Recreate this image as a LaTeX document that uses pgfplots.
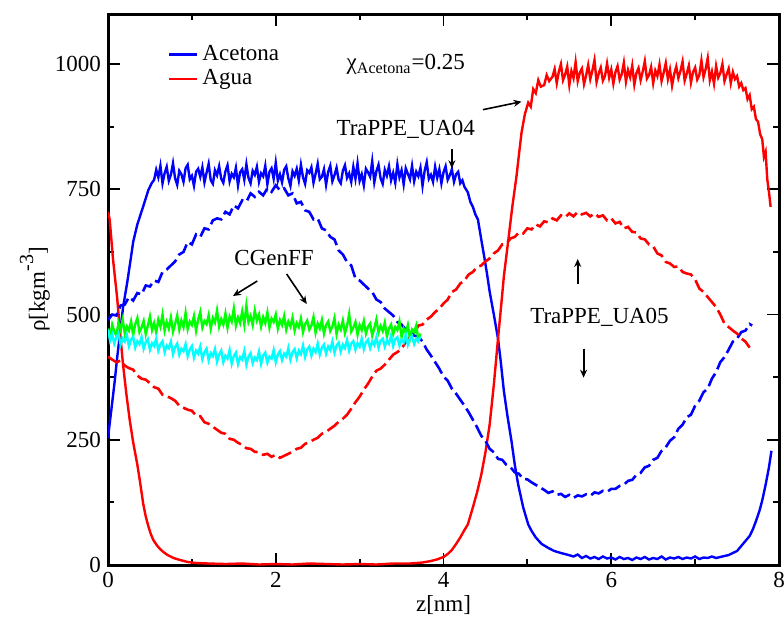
\documentclass[border=0pt]{standalone}
\usepackage{fontspec}
\setmainfont{Liberation Serif}
\usepackage{pgfplots}
\usepackage{pgfplotstable}
\pgfplotsset{compat=1.18}
\usetikzlibrary{arrows.meta}

\definecolor{cblue}{RGB}{0,0,255}
\definecolor{cred}{RGB}{255,0,0}
\definecolor{cgreen}{RGB}{0,255,0}
\definecolor{ccyan}{RGB}{0,255,255}

\pgfplotstableread{
x y
0.00 254
0.04 310
0.08 367
0.11 415
0.14 458
0.18 515
0.23 565
0.27 610
0.30 645
0.35 680
0.42 716
0.48 748
0.52 762
0.550 769
0.575 789
0.600 774
0.625 797
0.650 762
0.675 782
0.700 795
0.725 767
0.750 779
0.775 802
0.800 772
0.825 759
0.850 787
0.875 780
0.900 765
0.925 792
0.950 799
0.975 770
1.000 777
1.025 757
1.050 785
1.075 791
1.100 775
1.125 794
1.150 764
1.175 783
1.200 801
1.225 768
1.250 761
1.275 788
1.300 778
1.325 796
1.350 771
1.375 763
1.400 786
1.425 798
1.450 766
1.475 781
1.500 774
1.525 793
1.550 758
1.575 784
1.600 790
1.625 769
1.650 800
1.675 773
1.700 762
1.725 787
1.750 779
1.775 795
1.800 765
1.825 782
1.850 776
1.875 797
1.900 760
1.925 785
1.950 792
1.975 771
2.000 803
2.025 767
2.050 780
2.075 764
2.100 789
2.125 796
2.150 772
2.175 757
2.200 786
2.225 777
2.250 791
2.275 768
2.300 799
2.325 774
2.350 761
2.375 788
2.400 783
2.425 794
2.450 763
2.475 781
2.500 801
2.525 770
2.550 775
2.575 790
2.600 759
2.625 785
2.650 797
2.675 766
2.700 778
2.725 793
2.750 769
2.775 762
2.800 787
2.825 798
2.850 773
2.875 782
2.900 765
2.925 795
2.950 771
2.975 802
3.000 767
3.025 780
3.050 758
3.075 791
3.100 784
3.125 775
3.150 806
3.175 764
3.200 786
3.225 799
3.250 772
3.275 761
3.300 789
3.325 777
3.350 796
3.375 768
3.400 783
3.425 763
3.450 800
3.475 774
3.500 788
3.525 760
3.550 792
3.575 781
3.600 770
3.625 797
3.650 766
3.675 785
3.700 776
3.725 793
3.750 757
3.775 787
3.800 804
3.825 771
3.850 779
3.875 765
3.900 795
3.925 773
3.950 790
3.975 762
4.000 784
4.025 796
4.050 769
4.075 778
4.100 790
4.125 765
4.150 780
4.175 785
4.200 762
4.225 768
4.250 755
4.29 744
4.32 725
4.35 715
4.38 700
4.41 690
4.45 650
4.49 611
4.52 580
4.55 546
4.60 500
4.65 452
4.68 410
4.72 347
4.76 300
4.81 248
4.85 200
4.89 161
4.95 115
5.01 81
5.05 68
5.10 55
5.17 42
5.25 34
5.32 28
5.40 24
5.49 20
5.55 17
5.60 21
5.65 14
5.70 18
5.75 13
5.80 16
5.85 12
5.90 17
5.95 13
6.00 15
6.05 11
6.10 16
6.15 12
6.20 14
6.25 10
6.30 15
6.35 12
6.40 16
6.45 11
6.50 14
6.55 12
6.60 17
6.65 11
6.70 15
6.75 13
6.80 16
6.85 12
6.90 15
6.95 13
7.00 17
7.05 12
7.10 15
7.15 14
7.20 17
7.25 14
7.30 16
7.35 18
7.40 20
7.45 24
7.50 28
7.53 34
7.58 44
7.62 52
7.65 58
7.69 72
7.73 90
7.77 110
7.80 129
7.84 160
7.88 195
7.91 228
}\bluesolid

\pgfplotstableread{
x y
0.00 705
0.02 690
0.06 610
0.11 532
0.14 470
0.18 399
0.22 340
0.26 288
0.30 245
0.35 200
0.38 168
0.40 145
0.42 122
0.45 97
0.48 78
0.51 62
0.54 50
0.58 40
0.62 32
0.66 26
0.71 20
0.78 14
0.86 10
0.95 6
1.05 4
1.20 3
1.40 2
1.60 3
1.80 1
2.00 2
2.20 1
2.40 3
2.60 2
2.80 1
3.00 2
3.20 1
3.40 3
3.60 3
3.75 5
3.85 8
3.92 11
4.00 16
4.05 22
4.10 30
4.15 42
4.20 55
4.25 70
4.29 81
4.35 115
4.40 145
4.45 180
4.50 225
4.55 280
4.60 360
4.65 452
4.70 540
4.72 577
4.77 645
4.82 715
4.87 776
4.90 820
4.93 863
4.97 900
5.01 923
5.04 915
5.07 950
5.10 942
5.13 968
5.16 955
5.20 958
5.23 978
5.26 966
5.300 975
5.325 990
5.350 962
5.375 985
5.400 1000
5.425 968
5.450 979
5.475 995
5.500 958
5.525 986
5.550 972
5.575 1004
5.600 966
5.625 983
5.650 991
5.675 960
5.700 977
5.725 998
5.750 970
5.775 987
5.800 1008
5.825 964
5.850 981
5.875 993
5.900 967
5.925 976
5.950 1001
5.975 973
6.000 989
6.025 961
6.050 984
6.075 996
6.100 969
6.125 980
6.150 1003
6.175 965
6.200 988
6.225 974
6.250 997
6.275 959
6.300 982
6.325 992
6.350 968
6.375 985
6.400 1006
6.425 971
6.450 978
6.475 994
6.500 962
6.525 987
6.550 976
6.575 999
6.600 966
6.625 983
6.650 1002
6.675 970
6.700 989
6.725 957
6.750 980
6.775 995
6.800 972
6.825 986
6.850 1005
6.875 967
6.900 981
6.925 997
6.950 963
6.975 984
7.000 993
7.025 969
7.050 978
7.075 1007
7.100 974
7.125 990
7.150 1012
7.175 968
7.200 985
7.225 961
7.250 996
7.275 973
7.300 982
7.325 1000
7.350 966
7.375 979
7.400 991
7.425 962
7.450 984
7.475 970
7.500 976
7.525 955
7.550 962
7.575 948
7.600 952
7.625 930
7.650 938
7.675 910
7.700 915
7.725 890
7.750 885
7.775 860
7.800 850
7.820 815
7.840 825
7.860 770
7.880 745
7.900 715
}\redsolid

\pgfplotstableread{
x y
0.00 489
0.05 500
0.10 498
0.15 518
0.20 520
0.25 535
0.30 528
0.35 543
0.40 540
0.45 558
0.50 556
0.55 568
0.60 565
0.65 585
0.70 590
0.75 598
0.80 606
0.85 620
0.90 625
0.95 645
1.00 640
1.05 660
1.10 655
1.15 672
1.20 670
1.25 688
1.30 692
1.35 690
1.40 705
1.45 700
1.50 718
1.55 712
1.60 728
1.65 725
1.70 742
1.75 735
1.80 745
1.85 738
1.90 752
1.95 745
2.00 758
2.05 748
2.10 752
2.15 738
2.20 742
2.25 722
2.30 725
2.35 708
2.40 705
2.45 690
2.50 692
2.55 672
2.60 668
2.65 655
2.70 650
2.75 628
2.80 620
2.85 605
2.90 598
2.95 572
3.00 568
3.05 560
3.10 552
3.15 545
3.20 530
3.25 525
3.30 512
3.35 505
3.40 498
3.45 485
3.50 480
3.55 470
3.60 466
3.65 458
3.70 456
3.75 446
3.80 430
3.85 418
3.90 405
3.95 392
4.00 376
4.05 368
4.10 352
4.15 342
4.20 330
4.25 318
4.30 305
4.35 290
4.40 275
4.45 258
4.50 248
4.55 232
4.60 225
4.65 212
4.70 210
4.75 200
4.80 195
4.85 185
4.90 182
4.95 172
5.00 171
5.05 165
5.10 160
5.15 155
5.20 150
5.25 144
5.30 147
5.35 140
5.40 142
5.45 136
5.50 140
5.55 134
5.60 139
5.65 137
5.70 141
5.75 138
5.80 145
5.85 143
5.90 148
5.95 146
6.00 152
6.05 152
6.10 158
6.15 160
6.20 168
6.25 170
6.30 180
6.35 184
6.40 195
6.45 198
6.50 210
6.55 214
6.60 228
6.65 235
6.70 248
6.75 255
6.80 272
6.85 280
6.90 295
6.95 300
7.00 318
7.05 328
7.10 345
7.15 352
7.20 372
7.25 385
7.30 405
7.35 415
7.40 430
7.45 446
7.50 452
7.55 465
7.60 468
7.65 481
7.68 478
}\bluedash

\pgfplotstableread{
x y
0.00 416
0.05 410
0.10 405
0.15 408
0.20 398
0.25 393
0.30 390
0.35 378
0.40 372
0.45 370
0.50 363
0.55 355
0.60 352
0.65 340
0.70 337
0.75 333
0.80 328
0.85 318
0.90 314
0.95 310
1.00 308
1.05 298
1.10 297
1.15 285
1.20 282
1.25 276
1.30 270
1.35 264
1.40 262
1.45 252
1.50 250
1.55 244
1.60 240
1.65 233
1.70 232
1.75 226
1.80 225
1.85 220
1.90 222
1.95 216
2.00 220
2.05 214
2.10 218
2.15 222
2.20 226
2.25 232
2.30 234
2.35 242
2.40 245
2.45 250
2.50 254
2.55 262
2.60 266
2.65 272
2.70 278
2.75 286
2.80 292
2.85 300
2.90 312
2.95 325
3.00 336
3.05 350
3.10 362
3.15 376
3.20 388
3.25 392
3.30 400
3.35 410
3.40 420
3.45 425
3.50 432
3.55 445
3.60 455
3.65 462
3.70 478
3.75 480
3.80 490
3.85 496
3.90 505
3.95 512
4.00 522
4.05 530
4.10 545
4.15 550
4.20 562
4.25 568
4.30 580
4.35 585
4.40 595
4.45 598
4.50 606
4.55 612
4.60 622
4.65 628
4.70 640
4.75 642
4.80 652
4.85 655
4.90 664
4.95 662
5.00 672
5.05 670
5.10 680
5.15 676
5.20 686
5.25 684
5.30 692
5.35 688
5.40 698
5.45 694
5.50 702
5.55 696
5.60 705
5.65 700
5.70 703
5.75 696
5.80 702
5.85 695
5.90 698
5.95 688
6.00 692
6.05 682
6.10 685
6.15 672
6.20 675
6.25 665
6.30 664
6.35 652
6.40 650
6.45 640
6.50 636
6.55 622
6.60 618
6.65 605
6.70 602
6.75 595
6.80 596
6.85 585
6.90 582
6.95 580
7.00 570
7.05 552
7.10 545
7.15 535
7.20 525
7.25 515
7.30 500
7.35 482
7.40 475
7.45 468
7.50 462
7.55 452
7.60 446
7.65 434
}\reddash

\pgfplotstableread{
x y
0.000 472
0.025 455
0.050 480
0.075 466
0.100 458
0.125 484
0.150 470
0.175 490
0.200 462
0.225 476
0.250 468
0.275 486
0.300 459
0.325 481
0.350 493
0.375 465
0.400 474
0.425 487
0.450 461
0.475 478
0.500 496
0.525 469
0.550 483
0.575 464
0.600 490
0.625 476
0.650 500
0.675 468
0.700 485
0.725 472
0.750 494
0.775 466
0.800 481
0.825 498
0.850 470
0.875 488
0.900 475
0.925 503
0.950 471
0.975 486
1.000 479
1.025 497
1.050 468
1.075 490
1.100 505
1.125 474
1.150 487
1.175 481
1.200 499
1.225 472
1.250 493
1.275 484
1.300 508
1.325 476
1.350 491
1.375 480
1.400 502
1.425 474
1.450 496
1.475 486
1.500 512
1.525 478
1.550 494
1.575 483
1.600 506
1.625 480
1.650 518
1.675 485
1.700 497
1.725 479
1.750 508
1.775 488
1.800 500
1.825 476
1.850 495
1.875 483
1.900 504
1.925 474
1.950 492
1.975 485
2.000 500
2.025 472
2.050 489
2.075 479
2.100 497
2.125 470
2.150 486
2.175 476
2.200 494
2.225 468
2.250 483
2.275 475
2.300 492
2.325 465
2.350 481
2.375 488
2.400 470
2.425 478
2.450 495
2.475 464
2.500 482
2.525 472
2.550 489
2.575 462
2.600 479
2.625 486
2.650 467
2.675 476
2.700 493
2.725 461
2.750 480
2.775 470
2.800 488
2.825 463
2.850 477
2.875 501
2.900 466
2.925 474
2.950 485
2.975 460
3.000 479
3.025 469
3.050 487
3.075 462
3.100 476
3.125 482
3.150 458
3.175 473
3.200 490
3.225 464
3.250 477
3.275 467
3.300 484
3.325 456
3.350 472
3.375 480
3.400 461
3.425 475
3.450 469
3.475 486
3.500 455
3.525 472
3.550 463
3.575 479
3.600 452
3.625 470
3.650 465
3.675 478
3.700 450
3.725 462
}\greenser

\pgfplotstableread{
x y
0.000 470
0.025 448
0.050 460
0.075 442
0.100 455
0.125 463
0.150 440
0.175 452
0.200 446
0.225 459
0.250 437
0.275 450
0.300 456
0.325 434
0.350 447
0.375 441
0.400 455
0.425 432
0.450 445
0.475 451
0.500 430
0.525 443
0.550 437
0.575 452
0.600 428
0.625 441
0.650 447
0.675 425
0.700 438
0.725 433
0.750 446
0.775 421
0.800 435
0.825 442
0.850 420
0.875 432
0.900 427
0.925 441
0.950 417
0.975 430
1.000 437
1.025 414
1.050 428
1.075 422
1.100 436
1.125 411
1.150 425
1.175 432
1.200 409
1.225 423
1.250 417
1.275 431
1.300 406
1.325 420
1.350 428
1.375 405
1.400 418
1.425 412
1.450 429
1.475 402
1.500 417
1.525 424
1.550 401
1.575 415
1.600 410
1.625 427
1.650 400
1.675 416
1.700 423
1.725 403
1.750 414
1.775 409
1.800 426
1.825 401
1.850 418
1.875 424
1.900 404
1.925 416
1.950 412
1.975 429
2.000 405
2.025 420
2.050 427
2.075 409
2.100 422
2.125 416
2.150 433
2.175 410
2.200 425
2.225 431
2.250 413
2.275 428
2.300 421
2.325 438
2.350 415
2.375 430
2.400 436
2.425 418
2.450 432
2.475 425
2.500 442
2.525 420
2.550 434
2.575 440
2.600 422
2.625 436
2.650 429
2.675 446
2.700 424
2.725 438
2.750 444
2.775 426
2.800 440
2.825 433
2.850 449
2.875 428
2.900 442
2.925 447
2.950 430
2.975 443
3.000 436
3.025 452
3.050 431
3.075 445
3.100 450
3.125 433
3.150 446
3.175 439
3.200 455
3.225 434
3.250 448
3.275 452
3.300 436
3.325 449
3.350 442
3.375 458
3.400 437
3.425 451
3.450 455
3.475 438
3.500 450
3.525 444
3.550 460
3.575 440
3.600 453
3.625 457
3.650 441
3.675 452
3.700 447
3.725 456
}\cyanser

\newcommand{\fs}{\fontsize{11.5}{13.5}\selectfont}

\begin{document}
\begin{tikzpicture}
\begin{axis}[
  width=335.5pt, height=275.5pt, scale only axis,
  xmin=0, xmax=8, ymin=0, ymax=1100,
  xtick={0,2,4,6,8}, ytick={0,250,500,750,1000},
  minor x tick num=1, minor y tick num=1,
  tick align=inside, tick pos=both,
  major tick length=6pt, minor tick length=3pt,
  axis line style={line width=1.5pt},
  every tick/.style={black, line width=0.9pt},
  /pgf/number format/assume math mode=true,
  /pgf/number format/1000 sep={},
  tick label style={font=\fs},
  label style={font=\fs},
  xlabel={z[nm]},
  ylabel={ρ[kgm\raisebox{1.1ex}{\fontsize{10}{10}\selectfont -3}]},
  xlabel style={at={(axis description cs:0.5,-0.0726)}, anchor=center},
  ylabel style={at={(axis description cs:-0.109,0.5)}, anchor=center},
  legend style={at={(0.08,0.958)}, anchor=north west, draw=none, fill=none, font=\fs,
    row sep=-1pt},
  legend cell align=left,
  legend image code/.code={\draw[#1, line width=1.2pt] (0pt,0pt) -- (8pt,0pt); \path (0pt,0pt) -- (14pt,0pt);},
]
\coordinate (bl) at (rel axis cs:0,0);
\coordinate (tr) at (rel axis cs:1,1);
\addplot[cblue, line width=1.2pt] table {\bluesolid};
\addlegendentry{Acetona}
\addplot[cred, line width=1.2pt] table {\redsolid};
\addlegendentry{Agua}
\addplot[cblue, line width=1.3pt, dash pattern=on 7pt off 2.5pt, forget plot] table {\bluedash};
\addplot[cred, line width=1.3pt, dash pattern=on 7pt off 2.5pt, forget plot] table {\reddash};
\addplot[cgreen, line width=1.2pt, forget plot] table {\greenser};
\addplot[ccyan, line width=1.2pt, forget plot] table {\cyanser};

\node[font=\fs, anchor=base] at (axis cs:3.55,989) {χ\textsubscript{Acetona}=0.25};
\node[font=\fs, anchor=base] at (axis cs:3.55,857) {TraPPE\_UA04};
\node[font=\fs, anchor=base] at (axis cs:1.98,597) {CGenFF};
\node[font=\fs, anchor=base] at (axis cs:5.86,482) {TraPPE\_UA05};
\draw[-{Stealth[length=4pt,width=3.5pt]}, line width=0.8pt] (axis cs:4.10,830) -- (axis cs:4.10,792);
\draw[-{Stealth[length=4pt,width=3.5pt]}, line width=0.8pt] (axis cs:4.47,909) -- (axis cs:4.93,925);
\draw[-{Stealth[length=4pt,width=3.5pt]}, line width=0.8pt] (axis cs:1.78,567) -- (axis cs:1.49,537);
\draw[-{Stealth[length=4pt,width=3.5pt]}, line width=0.8pt] (axis cs:2.13,581) -- (axis cs:2.37,521);
\draw[-{Stealth[length=4pt,width=3.5pt]}, line width=1pt] (axis cs:5.60,561) -- (axis cs:5.60,611);
\draw[-{Stealth[length=4pt,width=3.5pt]}, line width=1pt] (axis cs:5.67,432) -- (axis cs:5.67,374);
\end{axis}
\pgfresetboundingbox
\path ([shift={(-54pt,-26pt)}]bl) rectangle ([shift={(2.5pt,7pt)}]tr);
\end{tikzpicture}
\end{document}
